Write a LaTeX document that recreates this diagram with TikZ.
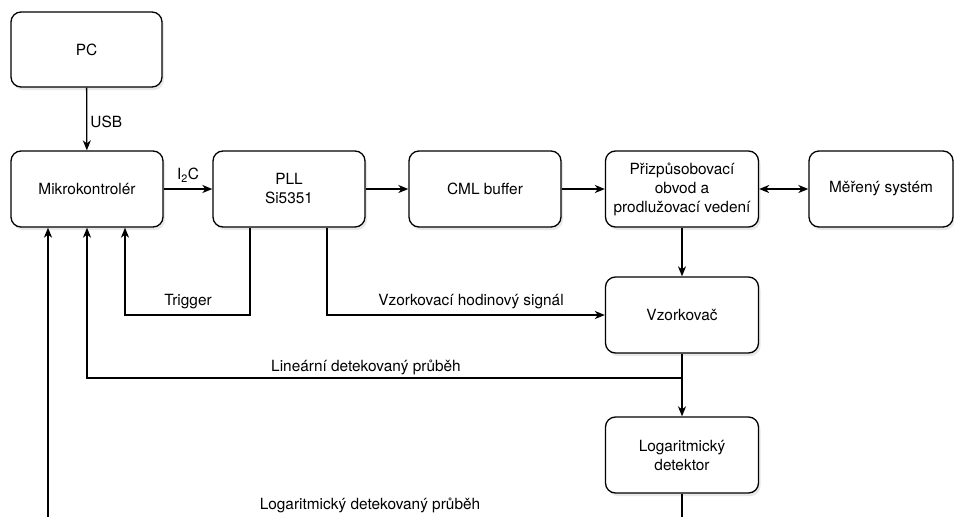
\documentclass[tikz,border=0pt]{standalone}
\usepackage{fontspec}
\setmainfont{TeX Gyre Heros}
\usetikzlibrary{arrows.meta,shadows}
\begin{document}
\begin{tikzpicture}[x=1pt,y=-1pt,
  every node/.style={font=\fontsize{15.4}{19}\selectfont, inner sep=0pt},
  block/.style={draw, line width=1.3pt, rounded corners=10pt, fill=white,
    minimum height=76pt, align=center,
    drop shadow={opacity=0.18, shadow xshift=2pt, shadow yshift=-3pt}},
  wire/.style={line width=1.3pt},
  arr/.style={wire, -{Stealth[length=10pt,width=8pt,inset=3pt]}},
  biarr/.style={wire, {Stealth[length=10pt,width=8pt,inset=3pt]}-{Stealth[length=10pt,width=8pt,inset=3pt]}},
  lbl/.style={font=\fontsize{15.4}{19}\selectfont}]
\useasboundingbox (0,0) rectangle (954,517);
\clip (0,0) rectangle (954,517);

% blocks
\node[block, minimum width=151pt, minimum height=75pt] (pc) at (86.5,49.5) {PC};
\node[block, minimum width=152pt] (mcu)  at (87,189)  {Mikrokontrolér};
\node[block, minimum width=152pt] (pll)  at (289,189) {PLL\\Si5351};
\node[block, minimum width=152pt] (cml)  at (485,189) {CML buffer};
\node[block, minimum width=153pt] (match) at (682,189) {Přizpůsobovací\\obvod a\\prodlužovací vedení};
\node[block, minimum width=144pt] (dut)  at (881,189) {Měřený systém};
\node[block, minimum width=153pt] (samp) at (682,315) {Vzorkovač};
\node[block, minimum width=153pt] (logd) at (682,455) {Logaritmický\\detektor};

% bend points
\coordinate (trigturn) at (125,315);
\coordinate (lintap) at (682,378);
\coordinate (logturn) at (48,540);

% signal chain
\draw[arr] (pc) -- (mcu) node[pos=0.55, right=3pt, lbl] {USB};
\draw[arr] (mcu) -- (pll) node[midway, above=6pt, lbl] {I\textsubscript{2}C};
\draw[arr] (pll) -- (cml);
\draw[arr] (cml) -- (match);
\draw[biarr] (match) -- (dut);
\draw[arr] (match) -- (samp);
\draw[arr] (samp) -- (logd);

% feedback and clock paths
\draw[arr] ([xshift=-39pt]pll.south) |- (trigturn) -- ([xshift=38pt]mcu.south);
\node[lbl] (trigl) at (188,302) {Trigger};
\draw[arr] ([xshift=38pt]pll.south) |- (samp.west);
\node[lbl] (clkl) at (471,302) {Vzorkovací hodinový signál};
\draw[arr] (lintap) -| (mcu.south);
\node[lbl] (linl) at (366,367) {Lineární detekovaný průběh};
\draw[arr] (logd.south) |- (logturn) -- ([xshift=-39pt]mcu.south);
\node[lbl] (logl) at (370,505) {Logaritmický detekovaný průběh};
\end{tikzpicture}
\end{document}
